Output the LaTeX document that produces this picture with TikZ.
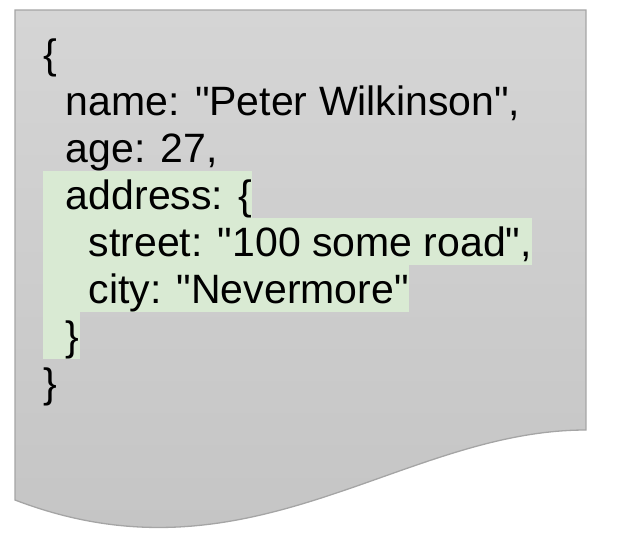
\documentclass[tikz,border=0pt]{standalone}
\usepackage{fontspec}
\setmainfont{Liberation Sans}[Ligatures=TeXOff]
\definecolor{docTop}{RGB}{213,213,213}
\definecolor{docBottom}{RGB}{195,195,195}
\definecolor{docLine}{RGB}{165,165,165}
\definecolor{hlGreen}{RGB}{217,234,211}
\newcommand\indsp[1]{\hspace*{#1\fontdimen2\font}}
\begin{document}
\begin{tikzpicture}[x=1pt,y=-1pt,
  codeline/.style={anchor=base west, inner sep=0pt, text height=38.3pt, text depth=8.7pt,
    font=\fontsize{41}{47}\selectfont},
  hlline/.style={codeline, fill=hlGreen},
  docshape/.style={draw=docLine, line width=1.3pt, top color=docTop, bottom color=docBottom}]
\useasboundingbox (0,0) rectangle (622,536);
\path[docshape] (15,10) -- (586,10) -- (586,430)
  .. controls (400,430) and (250,590) .. (15,500) -- cycle;
\node[codeline] (l1) at (43,68.3) {\{};
\node[codeline] (l2) at (43,115.3) {\indsp{2}name: "Peter Wilkinson",};
\node[codeline] (l3) at (43,162.3) {\indsp{2}age: 27,};
\node[hlline] (l4) at (43,209.3) {\indsp{2}address: \{};
\node[hlline] (l5) at (43,256.3) {\indsp{4}street: "100 some road",};
\node[hlline] (l6) at (43,303.3) {\indsp{4}city: "Nevermore"};
\node[hlline] (l7) at (43,350.3) {\indsp{2}\}};
\node[codeline] (l8) at (43,397.3) {\}};
\end{tikzpicture}
\end{document}
